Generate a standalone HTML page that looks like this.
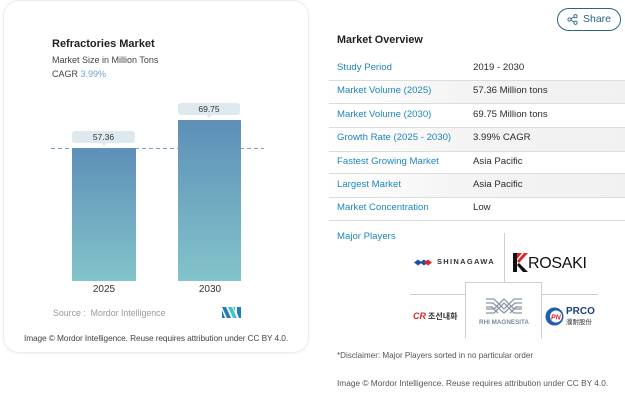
<!DOCTYPE html>
<html>
<head>
<meta charset="utf-8">
<style>
*{margin:0;padding:0;box-sizing:border-box;}
html,body{width:625px;height:403px;background:#fff;overflow:hidden;}
body{position:relative;font-family:"Liberation Sans","Noto Sans CJK KR",sans-serif;color:#333;}
.a{position:absolute;white-space:nowrap;}
.card{position:absolute;left:3px;top:0px;width:306px;height:353px;border:1px solid #ececec;border-radius:16px;box-shadow:0 1px 3px rgba(0,0,0,0.05);}
.bar{position:absolute;background:linear-gradient(to bottom,#5e8fb8,#82c4ca);}
.lbl{position:absolute;background:#dde9ee;border-radius:3px;font-size:8.5px;color:#333;text-align:center;line-height:12px;}
.lbl:after{content:"";position:absolute;left:50%;bottom:-3px;margin-left:-3px;border-left:3px solid transparent;border-right:3px solid transparent;border-top:3px solid #dde9ee;}
.k{font-size:9.6px;color:#1d86c0;line-height:12px;}
.v{font-size:9.6px;color:#2b2b2b;line-height:12px;}
.hl{position:absolute;left:329px;width:296px;height:1px;background:#dcdcdc;}
.rb{position:absolute;left:329px;width:296px;background:linear-gradient(to right,#ffffff 0%,#f4f4f4 45%,#f1f1f1 100%);}
</style>
</head>
<body>
<div class="card"></div>

<div class="a" style="left:52px;top:37px;font-size:11px;font-weight:bold;color:#222;line-height:14px;">Refractories Market</div>
<div class="a" style="left:52px;top:54px;font-size:9px;color:#444;line-height:12px;">Market Size in Million Tons</div>
<div class="a" style="left:52px;top:68px;font-size:9px;color:#444;line-height:12px;">CAGR <span style="color:#6aa6cf;">3.99%</span></div>

<svg class="a" style="left:0;top:0;" width="310" height="360">
<line x1="51" y1="148.5" x2="264" y2="148.5" stroke="#7d9fbe" stroke-width="1" stroke-dasharray="4,3"/>
</svg>

<div class="bar" style="left:72px;top:148px;width:64px;height:133px;"></div>
<div class="bar" style="left:178px;top:120px;width:63px;height:161px;"></div>

<div class="lbl" style="left:72px;top:131px;width:63px;height:12px;">57.36</div>
<div class="lbl" style="left:178px;top:103px;width:62px;height:12px;">69.75</div>

<div class="a" style="left:84px;top:284px;width:40px;text-align:center;font-size:10px;color:#333;line-height:12px;">2025</div>
<div class="a" style="left:190px;top:284px;width:40px;text-align:center;font-size:10px;color:#333;line-height:12px;">2030</div>

<div class="a" style="left:53px;top:307px;font-size:8.8px;color:#9a9a9a;line-height:12px;">Source :&nbsp; Mordor Intelligence</div>
<svg class="a" style="left:222px;top:307px;" width="20" height="11" viewBox="0 0 20 11">
<polygon points="0,0 4,0 9,11 5,11" fill="#1c7fb8"/>
<polygon points="0,3 3,11 0,11" fill="#1c7fb8"/>
<polygon points="6,0 10,0 15,11 11,11" fill="#44c1d0"/>
<polygon points="11,0 13,0 13,5" fill="#44c1d0"/>
<polygon points="15,0 19,0 19,11 17,11 15,6" fill="#1c7fb8"/>
</svg>

<div class="a" style="left:21px;top:332px;width:270px;font-size:8.3px;color:#444;line-height:12px;text-align:center;letter-spacing:-0.1px;">Image © Mordor Intelligence. Reuse requires attribution under CC BY 4.0.</div>

<div class="a" style="left:557px;top:8px;width:64px;height:23px;border:1.2px solid #2a6684;border-radius:12px;"></div>
<svg class="a" style="left:567px;top:14px;" width="11" height="11" viewBox="0 0 11 11">
<circle cx="2.5" cy="5.5" r="1.6" fill="none" stroke="#2a6684" stroke-width="0.9"/>
<circle cx="8.5" cy="2.2" r="1.6" fill="none" stroke="#2a6684" stroke-width="0.9"/>
<circle cx="8.5" cy="8.8" r="1.6" fill="none" stroke="#2a6684" stroke-width="0.9"/>
<line x1="3.9" y1="4.7" x2="7.1" y2="3" stroke="#2a6684" stroke-width="0.9"/>
<line x1="3.9" y1="6.3" x2="7.1" y2="8" stroke="#2a6684" stroke-width="0.9"/>
</svg>
<div class="a" style="left:583px;top:13px;font-size:10.5px;color:#2a6684;line-height:13px;">Share</div>

<div class="a" style="left:337px;top:33px;font-size:10.8px;font-weight:bold;color:#222;line-height:14px;">Market Overview</div>

<div class="rb" style="top:80px;height:23px;"></div>
<div class="rb" style="top:128px;height:23px;"></div>
<div class="rb" style="top:174px;height:23px;"></div>

<div class="hl" style="top:80px;"></div>
<div class="hl" style="top:103px;"></div>
<div class="hl" style="top:127px;"></div>
<div class="hl" style="top:151px;"></div>
<div class="hl" style="top:173px;"></div>
<div class="hl" style="top:197px;"></div>
<div class="hl" style="top:220px;"></div>

<div class="a k" style="left:337px;top:62px;">Study Period</div>
<div class="a v" style="left:473px;top:62px;">2019 - 2030</div>
<div class="a k" style="left:337px;top:85px;">Market Volume (2025)</div>
<div class="a v" style="left:473px;top:85px;">57.36 Million tons</div>
<div class="a k" style="left:337px;top:109px;">Market Volume (2030)</div>
<div class="a v" style="left:473px;top:109px;">69.75 Million tons</div>
<div class="a k" style="left:337px;top:132px;">Growth Rate (2025 - 2030)</div>
<div class="a v" style="left:473px;top:132px;">3.99% CAGR</div>
<div class="a k" style="left:337px;top:156px;">Fastest Growing Market</div>
<div class="a v" style="left:473px;top:156px;">Asia Pacific</div>
<div class="a k" style="left:337px;top:179px;">Largest Market</div>
<div class="a v" style="left:473px;top:179px;">Asia Pacific</div>
<div class="a k" style="left:337px;top:202px;">Market Concentration</div>
<div class="a v" style="left:473px;top:202px;">Low</div>

<div class="a k" style="left:337px;top:231px;">Major Players</div>

<div class="a" style="left:504px;top:233px;width:1px;height:49px;background:#cfcfcf;"></div>
<div class="a" style="left:410px;top:294px;width:55px;height:1px;background:#cfcfcf;"></div>
<div class="a" style="left:542px;top:294px;width:56px;height:1px;background:#cfcfcf;"></div>
<div class="a" style="left:465px;top:282px;width:77px;height:56px;border:1px solid #cfcfcf;border-bottom:none;"></div>

<svg class="a" style="left:414px;top:259px;" width="20" height="7" viewBox="0 0 20 7">
<polygon points="0,3.5 4,0.5 8,3.5 4,6.5" fill="#1f4fa0"/>
<polygon points="6,3.5 10,0.5 14,3.5 10,6.5" fill="#1f4fa0"/>
<polygon points="10,3.5 14,0.5 18,3.5 14,6.5" fill="#e0262a"/>
</svg>
<div class="a" style="left:437px;top:257px;font-size:7.5px;font-weight:bold;letter-spacing:1.3px;color:#333;line-height:10px;">SHINAGAWA</div>

<svg class="a" style="left:513px;top:253px;" width="17" height="20" viewBox="0 0 17 20">
<rect x="0" y="0" width="4" height="19" fill="#111"/>
<polygon points="4,8 11,0 15,0 6,10" fill="#e0262a"/>
<polygon points="6,10 15,19 10,19 4,12" fill="#111"/>
<polygon points="4,0 9,0 4,6" fill="#e0262a"/>
</svg>
<div class="a" style="left:528px;top:254px;font-size:16px;color:#111;line-height:19px;letter-spacing:-0.3px;">ROSAKI</div>

<div class="a" style="left:413px;top:311px;font-size:9px;font-weight:bold;font-style:italic;color:#e0262a;line-height:11px;">CR</div>
<div class="a" style="left:428px;top:311px;font-size:8px;font-weight:bold;color:#333;line-height:11px;font-family:'Noto Sans CJK KR','NanumGothic',sans-serif;">조선내화</div>

<svg class="a" style="left:484px;top:295px;" width="40" height="22" viewBox="0 0 40 22">
<g fill="none" stroke="#8a97a6" stroke-width="1.3">
<path d="M2,4 L10,4 L20,14 L30,4 L38,4"/>
<path d="M2,8 L9,8 L20,18 L31,8 L38,8"/>
<path d="M2,12 L8,12 L14,18"/>
<path d="M38,12 L32,12 L26,18"/>
<path d="M2,18 L10,18 L20,8 L30,18 L38,18"/>
<path d="M2,14 L10,14 L20,4 L30,14 L38,14"/>
</g>
</svg>
<div class="a" style="left:466px;top:319px;width:76px;text-align:center;font-size:6.3px;font-weight:bold;color:#7e8a98;line-height:8px;">RHI MAGNESITA</div>

<svg class="a" style="left:545px;top:307px;" width="19" height="19" viewBox="0 0 19 19">
<circle cx="9.5" cy="9.5" r="9" fill="#1f5fae"/>
<circle cx="11" cy="9.5" r="6" fill="#fff"/>
<text x="6" y="12.5" font-family="Liberation Sans" font-size="7" font-weight="bold" font-style="italic" fill="#e0262a">PN</text>
</svg>
<div class="a" style="left:566px;top:306px;font-size:10px;font-weight:bold;color:#1f3f7a;line-height:11px;">PRCO</div>
<div class="a" style="left:566px;top:317px;font-size:6.5px;color:#333;line-height:8px;font-family:'Noto Sans CJK SC',sans-serif;">濮耐股份</div>

<div class="a" style="left:337px;top:350px;font-size:8.1px;color:#555;line-height:12px;">*Disclaimer: Major Players sorted in no particular order</div>
<div class="a" style="left:337px;top:377px;font-size:8.3px;color:#555;line-height:12px;">Image © Mordor Intelligence. Reuse requires attribution under CC BY 4.0.</div>
</body>
</html>
